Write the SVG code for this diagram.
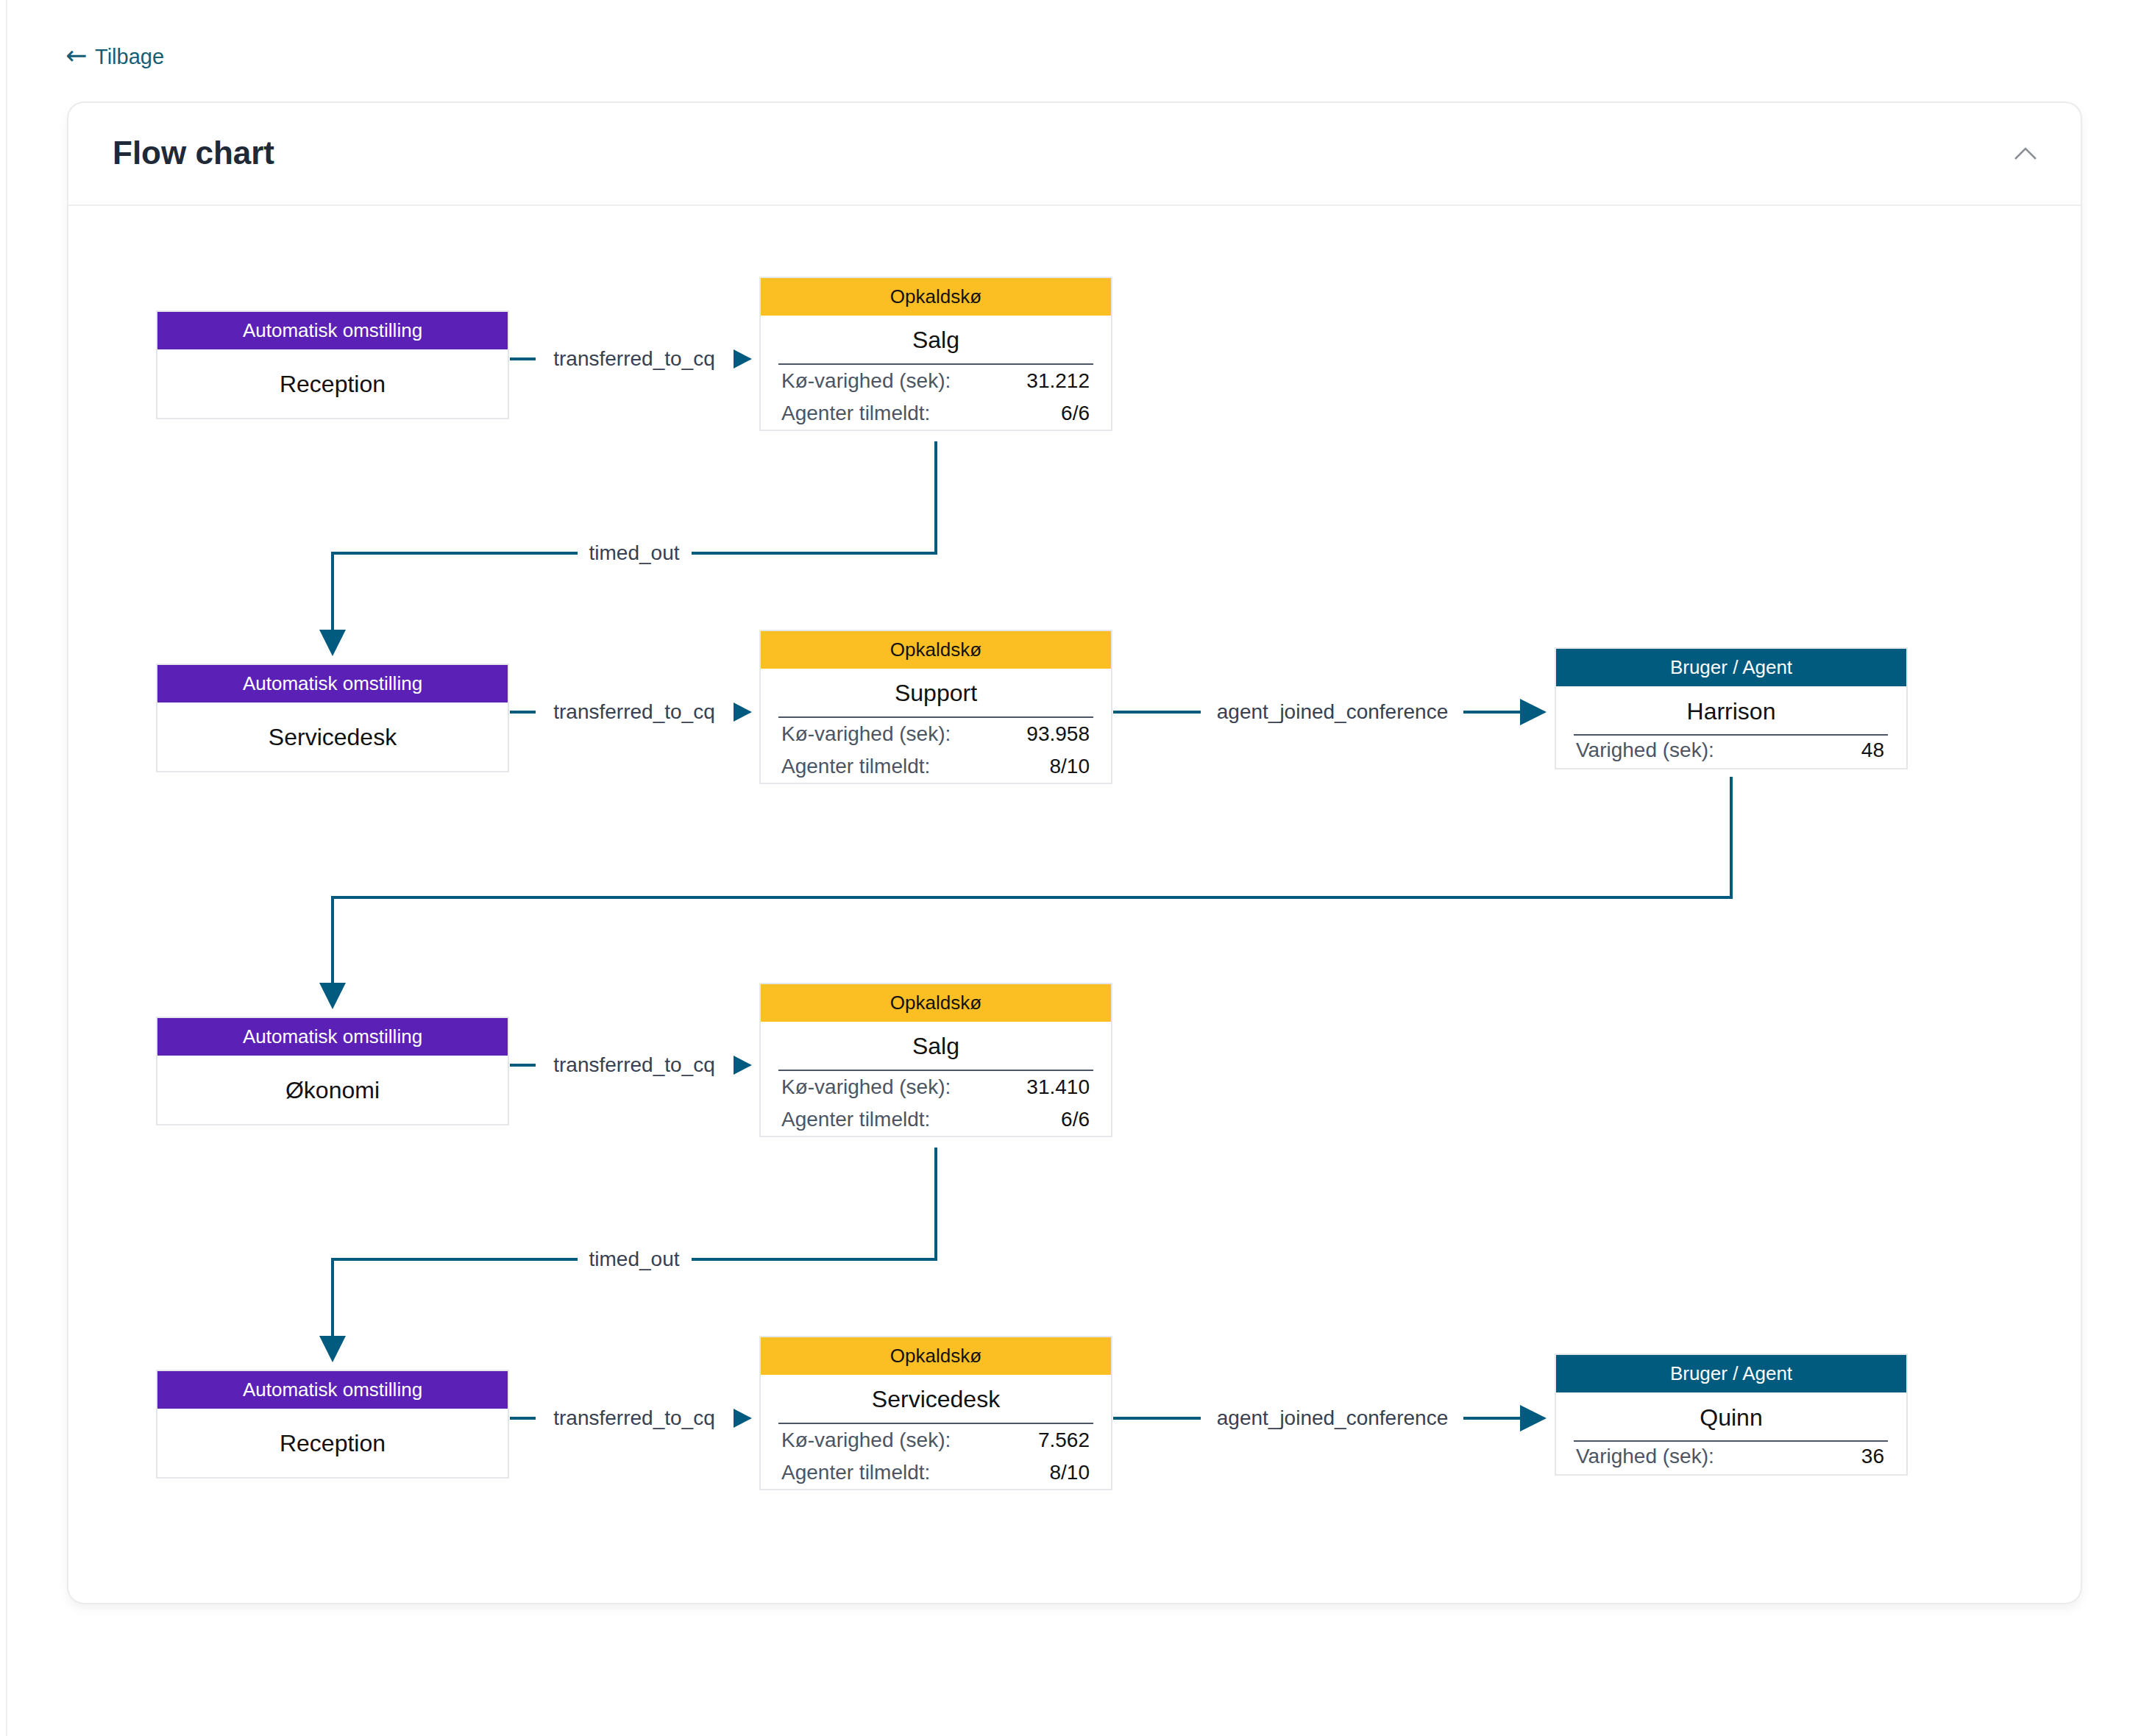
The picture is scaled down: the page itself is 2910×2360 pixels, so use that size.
<svg xmlns="http://www.w3.org/2000/svg" width="2910" height="2360" viewBox="0 0 2910 2360">
<style>
text{font-family:"Liberation Sans",Arial,sans-serif}
.box{fill:#fff;stroke:#e5e7eb;stroke-width:2}
.hAuto{fill:#5b21b6}
.hQueue{fill:#fbbf24}
.hAgent{fill:#005b7f}
.hw{font-size:26px;fill:#fff;text-anchor:middle}
.hb{font-size:26px;fill:#111;text-anchor:middle}
.title{font-size:32px;fill:#111;text-anchor:middle}
.div{stroke:#4b5563;stroke-width:2}
.lbl{font-size:28px;fill:#4b5563}
.val{font-size:28px;fill:#111;text-anchor:end}
.edge{fill:none;stroke:#005b7f;stroke-width:4}
.ah{fill:#005b7f}
.elbl{font-size:28px;fill:#374151;text-anchor:middle}
</style>
<defs>
<filter id="sh" x="-5%" y="-5%" width="110%" height="110%">
<feDropShadow dx="0" dy="6" stdDeviation="6" flood-color="#000" flood-opacity="0.05"/>
</filter>
</defs>
<rect width="2910" height="2360" fill="#fff"/>
<line x1="9" y1="0" x2="9" y2="2360" stroke="#efefef" stroke-width="2"/>
<text x="89" y="87" style="font-size:29px;fill:#155e75"><tspan style="font-family:'DejaVu Sans',sans-serif;font-size:35px">←</tspan><tspan x="129">Tilbage</tspan></text>
<g id="card">
<rect x="92" y="139" width="2737" height="2041" rx="22" fill="#fff" stroke="#ebebeb" stroke-width="2" filter="url(#sh)"/>
<line x1="93" y1="279" x2="2828" y2="279" stroke="#eeeeee" stroke-width="2"/>
<text x="153" y="223" style="font-size:44px;font-weight:bold;fill:#1f2937">Flow chart</text>
<polyline points="2739,216 2753,202 2767,216" fill="none" stroke="#8a8f96" stroke-width="2.5"/>
</g>
<g id="connectors">
<line class="edge" x1="693" y1="488" x2="728" y2="488"/>
<text class="elbl" x="862" y="497">transferred_to_cq</text>
<polygon class="ah" points="997,475 1022,488 997,501"/>
<line class="edge" x1="693" y1="968" x2="728" y2="968"/>
<text class="elbl" x="862" y="977">transferred_to_cq</text>
<polygon class="ah" points="997,955 1022,968 997,981"/>
<line class="edge" x1="693" y1="1448" x2="728" y2="1448"/>
<text class="elbl" x="862" y="1457">transferred_to_cq</text>
<polygon class="ah" points="997,1435 1022,1448 997,1461"/>
<line class="edge" x1="693" y1="1928" x2="728" y2="1928"/>
<text class="elbl" x="862" y="1937">transferred_to_cq</text>
<polygon class="ah" points="997,1915 1022,1928 997,1941"/>
<path class="edge" d="M1272,600 V752 H940 M785,752 H452 V858"/>
<text class="elbl" x="862" y="761">timed_out</text>
<polygon class="ah" points="434,856 470,856 452,892"/>
<path class="edge" d="M1272,1560 V1712 H940 M785,1712 H452 V1818"/>
<text class="elbl" x="862" y="1721">timed_out</text>
<polygon class="ah" points="434,1816 470,1816 452,1852"/>
<path class="edge" d="M1513,968 H1632 M1989,968 H2068"/>
<text class="elbl" x="1811" y="977">agent_joined_conference</text>
<polygon class="ah" points="2066,950 2102,968 2066,986"/>
<path class="edge" d="M1513,1928 H1632 M1989,1928 H2068"/>
<text class="elbl" x="1811" y="1937">agent_joined_conference</text>
<polygon class="ah" points="2066,1910 2102,1928 2066,1946"/>
<path class="edge" d="M2353,1056 V1220 H452 V1338"/>
<polygon class="ah" points="434,1336 470,1336 452,1372"/>
</g>
<g id="auto-reception-1" transform="translate(213,423)">
<rect class="box" width="478" height="146"/><rect class="hAuto" x="1" y="1" width="476" height="51"/>
<text class="hw" x="239" y="35">Automatisk omstilling</text>
<text class="title" x="239" y="110">Reception</text>
</g>
<g id="auto-servicedesk" transform="translate(213,903)">
<rect class="box" width="478" height="146"/><rect class="hAuto" x="1" y="1" width="476" height="51"/>
<text class="hw" x="239" y="35">Automatisk omstilling</text>
<text class="title" x="239" y="110">Servicedesk</text>
</g>
<g id="auto-okonomi" transform="translate(213,1383)">
<rect class="box" width="478" height="146"/><rect class="hAuto" x="1" y="1" width="476" height="51"/>
<text class="hw" x="239" y="35">Automatisk omstilling</text>
<text class="title" x="239" y="110">Økonomi</text>
</g>
<g id="auto-reception-2" transform="translate(213,1863)">
<rect class="box" width="478" height="146"/><rect class="hAuto" x="1" y="1" width="476" height="51"/>
<text class="hw" x="239" y="35">Automatisk omstilling</text>
<text class="title" x="239" y="110">Reception</text>
</g>
<g id="queue-salg-1" transform="translate(1033,377)">
<rect class="box" width="478" height="208"/><rect class="hQueue" x="1" y="1" width="476" height="51"/>
<text class="hb" x="239" y="35">Opkaldskø</text>
<text class="title" x="239" y="96">Salg</text>
<line class="div" x1="25" y1="118" x2="453" y2="118"/>
<text class="lbl" x="29" y="150">Kø-varighed (sek):</text><text class="val" x="448" y="150">31.212</text>
<text class="lbl" x="29" y="194">Agenter tilmeldt:</text><text class="val" x="448" y="194">6/6</text>
</g>
<g id="queue-support" transform="translate(1033,857)">
<rect class="box" width="478" height="208"/><rect class="hQueue" x="1" y="1" width="476" height="51"/>
<text class="hb" x="239" y="35">Opkaldskø</text>
<text class="title" x="239" y="96">Support</text>
<line class="div" x1="25" y1="118" x2="453" y2="118"/>
<text class="lbl" x="29" y="150">Kø-varighed (sek):</text><text class="val" x="448" y="150">93.958</text>
<text class="lbl" x="29" y="194">Agenter tilmeldt:</text><text class="val" x="448" y="194">8/10</text>
</g>
<g id="queue-salg-2" transform="translate(1033,1337)">
<rect class="box" width="478" height="208"/><rect class="hQueue" x="1" y="1" width="476" height="51"/>
<text class="hb" x="239" y="35">Opkaldskø</text>
<text class="title" x="239" y="96">Salg</text>
<line class="div" x1="25" y1="118" x2="453" y2="118"/>
<text class="lbl" x="29" y="150">Kø-varighed (sek):</text><text class="val" x="448" y="150">31.410</text>
<text class="lbl" x="29" y="194">Agenter tilmeldt:</text><text class="val" x="448" y="194">6/6</text>
</g>
<g id="queue-servicedesk" transform="translate(1033,1817)">
<rect class="box" width="478" height="208"/><rect class="hQueue" x="1" y="1" width="476" height="51"/>
<text class="hb" x="239" y="35">Opkaldskø</text>
<text class="title" x="239" y="96">Servicedesk</text>
<line class="div" x1="25" y1="118" x2="453" y2="118"/>
<text class="lbl" x="29" y="150">Kø-varighed (sek):</text><text class="val" x="448" y="150">7.562</text>
<text class="lbl" x="29" y="194">Agenter tilmeldt:</text><text class="val" x="448" y="194">8/10</text>
</g>
<g id="agent-harrison" transform="translate(2114,881)">
<rect class="box" width="478" height="164"/><rect class="hAgent" x="1" y="1" width="476" height="51"/>
<text class="hw" x="239" y="35">Bruger / Agent</text>
<text class="title" x="239" y="97">Harrison</text>
<line class="div" x1="25" y1="118" x2="452" y2="118"/>
<text class="lbl" x="28" y="148">Varighed (sek):</text><text class="val" x="447" y="148">48</text>
</g>
<g id="agent-quinn" transform="translate(2114,1841)">
<rect class="box" width="478" height="164"/><rect class="hAgent" x="1" y="1" width="476" height="51"/>
<text class="hw" x="239" y="35">Bruger / Agent</text>
<text class="title" x="239" y="97">Quinn</text>
<line class="div" x1="25" y1="118" x2="452" y2="118"/>
<text class="lbl" x="28" y="148">Varighed (sek):</text><text class="val" x="447" y="148">36</text>
</g>
</svg>
